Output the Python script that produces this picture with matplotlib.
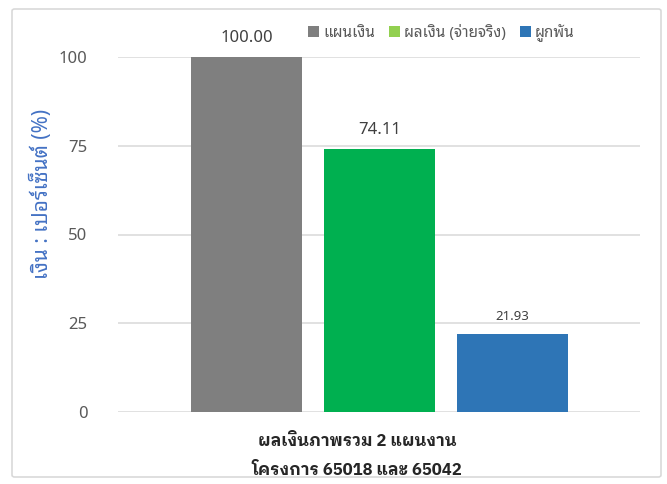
import matplotlib
matplotlib.use('Agg')
import matplotlib.pyplot as plt
from matplotlib import font_manager
from matplotlib.patches import FancyBboxPatch, Patch

plt.rcParams['font.family'] = ['Noto Sans Thai Looped', 'DejaVu Sans']

# fuente con negrita para el título del eje x
bold_family = 'Noto Sans Thai Looped'
for cand in ['Noto Sans Thai Looped', 'IBM Plex Sans Thai Looped', 'Noto Sans Thai', 'Sarabun']:
    ws = [f.weight for f in font_manager.fontManager.ttflist if f.name == cand]
    if any((w if isinstance(w, int) else 400) >= 600 or w == 'bold' for w in ws):
        bold_family = cand
        break

# --- datos ---
series = ['แผนเงิน', 'ผลเงิน (จ่ายจริง)', 'ผูกพัน']
values = [100.00, 74.11, 21.93]
bar_colors = ['#7F7F7F', '#00B050', '#2E75B6']
legend_colors = ['#7F7F7F', '#92D050', '#2E75B6']
label_sizes = [12, 12, 9.5]
yticks = [0, 25, 50, 75, 100]
ylabel = 'เงิน : เปอร์เซ็นต์ (%)'
xlabel = ['ผลเงินภาพรวม 2 แผนงาน', 'โครงการ 65018 และ 65042']

W, H = 667, 484
fig = plt.figure(figsize=(W / 100, H / 100), dpi=100)

# borde exterior redondeado
fig.patches.append(FancyBboxPatch((12 / W, 7 / H), 649 / W, 468 / H,
                                  boxstyle='round,pad=0,rounding_size=0.004',
                                  transform=fig.transFigure, fill=False,
                                  edgecolor='#D9D9D9', linewidth=1.2))

ax = fig.add_axes([118 / W, 72 / H, 522 / W, 355 / H])
x = list(range(len(values)))
ax.bar(x, values, width=0.835, color=bar_colors, zorder=3)

for xi, v, fs in zip(x, values, label_sizes):
    ax.annotate(f'{v:.2f}', (xi, v), xytext=(0, 8), textcoords='offset points',
                ha='center', va='bottom', fontsize=fs, color='#404040',
                annotation_clip=False)

ax.set_xlim(-0.966, 2.959)
ax.set_ylim(0, 100)
ax.set_yticks(yticks)
ax.set_xticks([])
ax.grid(axis='y', color='#D9D9D9', linewidth=1.1, zorder=0)
for s in ax.spines.values():
    s.set_visible(False)
ax.tick_params(axis='y', length=0, pad=22, labelsize=12, labelcolor='#595959')
ax.set_ylabel(ylabel, color='#4472C4', fontsize=15, va='center')
ax.yaxis.set_label_coords(-0.146, 0.614)

for i, line in enumerate(xlabel):
    fig.text(357 / W, 1 - (441 + 29 * i) / H, line, ha='center', va='center',
             fontsize=12, fontweight='bold', color='#262626',
             family=[bold_family, 'DejaVu Sans'])

handles = [Patch(facecolor=c, edgecolor='none') for c in legend_colors]
fig.legend(handles, series, loc='center left', bbox_to_anchor=(308 / W, 1 - 33 / H),
           ncol=3, frameon=False, fontsize=11, labelcolor='#595959',
           handlelength=0.7, handleheight=0.7, handletextpad=0.3, columnspacing=0.9,
           borderpad=0, borderaxespad=0)

fig.savefig('out.png', dpi=100)
